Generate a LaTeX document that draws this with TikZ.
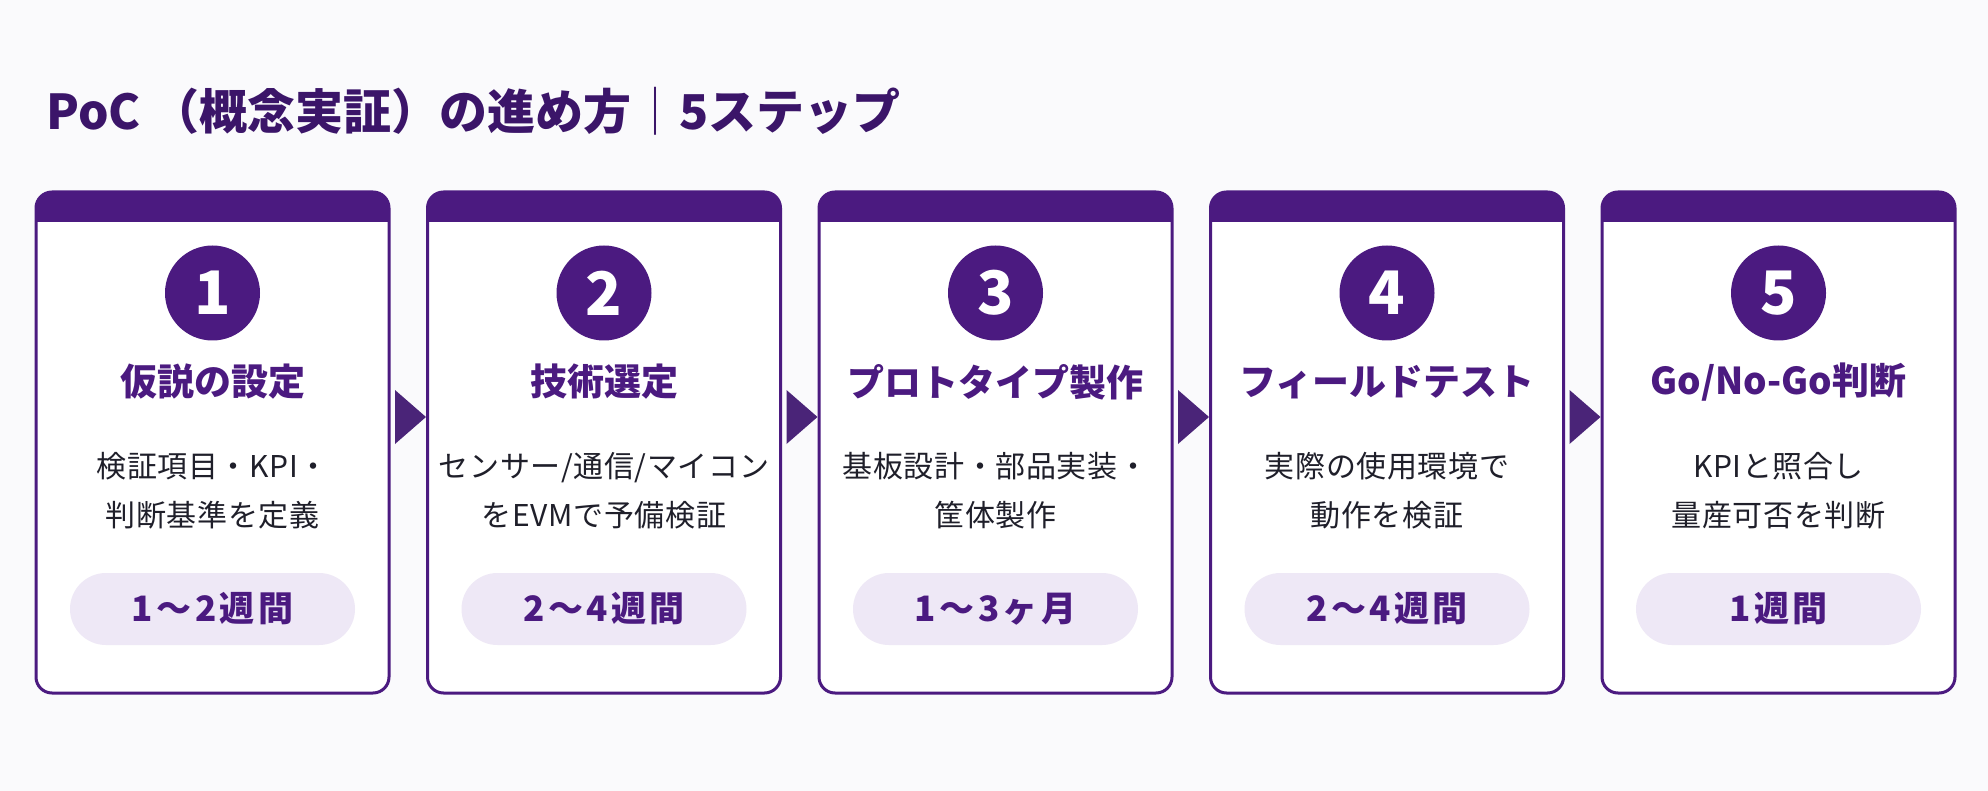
\documentclass[tikz,border=0pt]{standalone}
\usepackage{fontspec}
\setmainfont{Noto Sans CJK JP}
\usetikzlibrary{calc}

\begin{document}
\begin{tikzpicture}[x=1pt,y=-1pt]
		%---------------- Colors & styles ----------------
		\definecolor{bgcol}{RGB}{250,250,252}    % page background
		\definecolor{pocpurple}{RGB}{75,26,128}  % header bars, circles, borders
		\definecolor{headtext}{RGB}{59,21,105}   % main heading
		\definecolor{pilltint}{RGB}{238,232,246} % duration pill
		\definecolor{bodytext}{RGB}{31,31,42}    % descriptions
		\definecolor{arrowcol}{RGB}{74,36,120}   % triangles between cards
		\tikzset{
			card/.style={draw=pocpurple, line width=3pt, fill=white, rounded corners=16pt,
				minimum width=353pt, minimum height=501pt, inner sep=0pt,
				path picture={\fill[pocpurple, sharp corners] (path picture bounding box.north west)
					rectangle ([yshift=-30pt]path picture bounding box.north east);}}, % card with header bar
			numdot/.style={circle, fill=pocpurple, minimum size=95pt, inner sep=0pt,
				text=white, font=\fontsize{60}{60}\selectfont\bfseries},          % step number
			steptitle/.style={text=pocpurple, font=\fontsize{37}{44}\selectfont\bfseries},
			stepdesc/.style={text=bodytext, align=center,
				font=\fontsize{30}{49}\selectfont\addfontfeature{LetterSpace=2}},
			duration/.style={fill=pilltint, rounded corners=36pt, minimum width=285pt,
				minimum height=72pt, text=pocpurple,
				font=\fontsize{35}{40}\selectfont\bfseries\addfontfeature{LetterSpace=10}},
			steparrow/.style={fill=arrowcol},
		}
		
		%---------------- Card x-centres and row heights ----------------
		\def\xa{212.5}
		\def\xb{604}
		\def\xc{995.5}
		\def\xd{1387}
		\def\xe{1778.5}
		\def\yc{442.5}  % card centre
		\def\yn{293}    % number circle
		\def\yt{382}    % step title
		\def\yd{490.5}  % description
		\def\yp{609}    % duration pill
		
		%---------------- Background ----------------
		\fill[bgcol] (0,0) rectangle (1988,791);
		\useasboundingbox (0,0) rectangle (1988,791);
		
		%---------------- Heading ----------------
		\node[anchor=base west, inner sep=0pt, text=headtext, font=\fontsize{48}{56}\selectfont\bfseries]
			(heading) at (46,130) {PoC （概念実証）の進め方{\mdseries ｜}5ステップ};
		
		%---------------- Cards ----------------
		\node[card] (card1) at (\xa,\yc) {};
		\node[card] (card2) at (\xb,\yc) {};
		\node[card] (card3) at (\xc,\yc) {};
		\node[card] (card4) at (\xd,\yc) {};
		\node[card] (card5) at (\xe,\yc) {};
		
		%---------------- Step numbers ----------------
		\node[numdot] (num1) at (\xa,\yn) {1};
		\node[numdot] (num2) at (\xb,\yn) {2};
		\node[numdot] (num3) at (\xc,\yn) {3};
		\node[numdot] (num4) at (\xd,\yn) {4};
		\node[numdot] (num5) at (\xe,\yn) {5};
		
		%---------------- Step titles ----------------
		\node[steptitle] (title1) at (\xa,\yt) {仮説の設定};
		\node[steptitle] (title2) at (\xb,\yt) {技術選定};
		\node[steptitle] (title3) at (\xc,\yt) {プロトタイプ製作};
		\node[steptitle] (title4) at (\xd,\yt) {フィールドテスト};
		\node[steptitle] (title5) at (\xe,\yt) {Go/No-Go判断};
		
		%---------------- Descriptions ----------------
		\node[stepdesc] (desc1) at (\xa,\yd) {検証項目・KPI・\\判断基準を定義};
		\node[stepdesc] (desc2) at (\xb,\yd) {センサー/通信/マイコン\\をEVMで予備検証};
		\node[stepdesc] (desc3) at (\xc,\yd) {基板設計・部品実装・\\筐体製作};
		\node[stepdesc] (desc4) at (\xd,\yd) {実際の使用環境で\\動作を検証};
		\node[stepdesc] (desc5) at (\xe,\yd) {KPIと照合し\\量産可否を判断};
		
		%---------------- Duration pills ----------------
		\node[duration] (dur1) at (\xa,\yp) {1～2週間};
		\node[duration] (dur2) at (\xb,\yp) {2～4週間};
		\node[duration] (dur3) at (\xc,\yp) {1～3ヶ月};
		\node[duration] (dur4) at (\xd,\yp) {2～4週間};
		\node[duration] (dur5) at (\xe,\yp) {1週間};
		
		%---------------- Arrows between cards ----------------
		% tip touches the next card, centred a little above the card middle
		\fill[steparrow] ($(card1.east)+(4.5,-52.5)$) -- ($(card2.west)+(0,-25.5)$) -- ($(card1.east)+(4.5,1.5)$) -- cycle;
		\fill[steparrow] ($(card2.east)+(4.5,-52.5)$) -- ($(card3.west)+(0,-25.5)$) -- ($(card2.east)+(4.5,1.5)$) -- cycle;
		\fill[steparrow] ($(card3.east)+(4.5,-52.5)$) -- ($(card4.west)+(0,-25.5)$) -- ($(card3.east)+(4.5,1.5)$) -- cycle;
		\fill[steparrow] ($(card4.east)+(4.5,-52.5)$) -- ($(card5.west)+(0,-25.5)$) -- ($(card4.east)+(4.5,1.5)$) -- cycle;
\end{tikzpicture}
\end{document}
